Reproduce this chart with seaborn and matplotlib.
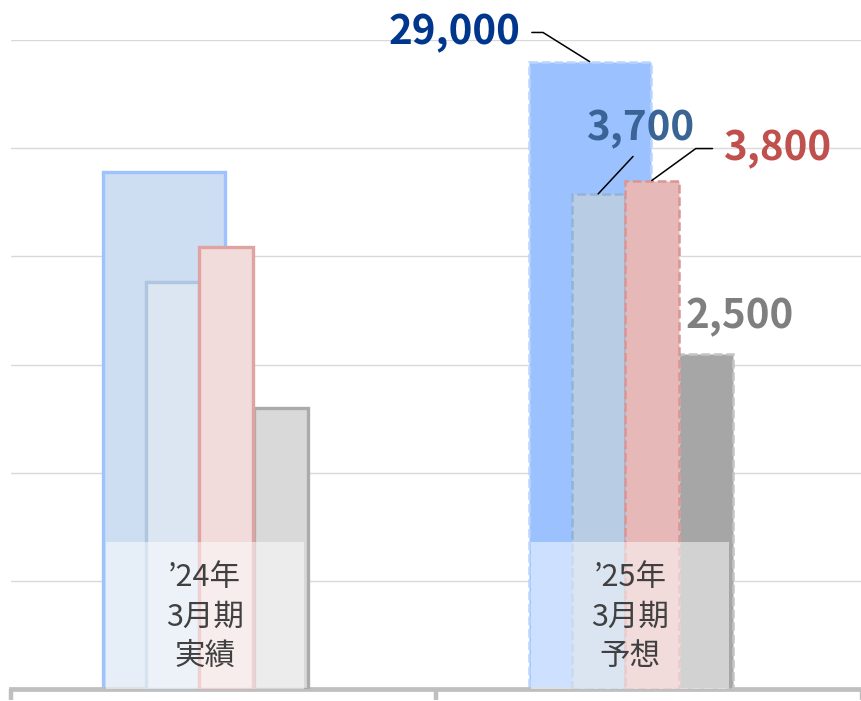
import numpy as np
import pandas as pd
import matplotlib
matplotlib.use("Agg")
import matplotlib.pyplot as plt
import matplotlib.transforms as mtransforms
from matplotlib.patches import Rectangle
import seaborn as sns

# chart data
periods = ["’24年\n3月期\n実績", "’25年\n3月期\n予想"]
total_sales = [23900, 29000]      # big bar, left axis
profit_a = [3040, 3700]           # blue-grey bar, right axis
profit_b = [3300, 3800]           # red bar, right axis
profit_c = [2100, 2500]           # grey bar, right axis

sns.set_style("white")
plt.rcParams['font.family'] = ['Noto Sans CJK JP', 'DejaVu Sans']

fig = plt.figure(figsize=(8.62, 7.01), dpi=100)
ax = fig.add_axes([11 / 862, 12 / 701, 851 / 862, 649 / 701])
ax2 = ax.twinx()

idx = np.arange(len(periods))


def draw_bars(axis, values, offset, width, fills, edges, styles, lws):
    n0 = len(axis.patches)
    sns.barplot(x=idx + offset, y=values, hue=periods, palette=fills,
                hue_order=periods, native_scale=True, width=width,
                saturation=1, dodge=False, legend=False, errorbar=None,
                ax=axis)
    for p, ec, ls, lw in zip(axis.patches[n0:], edges, styles, lws):
        p.set_edgecolor(ec)
        p.set_linestyle(ls)
        p.set_linewidth(lw)
        p.set_alpha(1)
        p.set_joinstyle('miter')


dash = (0, (3.5, 1.5))
draw_bars(ax, total_sales, -0.14, 0.287,
          ["#CDDDF2", "#9BC2FF"], ["#9DC3FF", "#B9D5FF"], ["-", dash], [2.4, 1.8])
draw_bars(ax2, profit_a, -0.12, 0.124,
          ["#DCE6F2", "#B8CCE4"], ["#AFC5E0", "#95B3D7"], ["-", dash], [2.4, 1.8])
draw_bars(ax2, profit_c, 0.134, 0.126,
          ["#D9D9D9", "#A6A6A6"], ["#ABABAB", "#C4C4C4"], ["-", dash], [2.4, 1.8])
draw_bars(ax2, profit_b, 0.006, 0.126,
          ["#F2DCDB", "#E6B9B8"], ["#E0A3A3", "#DA9694"], ["-", dash], [2.4, 1.8])

ax.set_ylim(0, 30000)
ax2.set_ylim(0, 4850)
ax.set_yticks(np.arange(0, 30001, 5000))
ax.yaxis.grid(True, color="#D9D9D9", lw=1.0)
ax.set_axisbelow(True)
ax.tick_params(axis='y', left=False, labelleft=False)
ax2.tick_params(axis='y', right=False, labelright=False)
ax.set_xticks([-0.5, 0.5, 1.5])
ax.tick_params(axis='x', bottom=True, direction='out', length=8, width=3.2,
               color="#BFBFBF", labelbottom=False)
ax.set_xlim(-0.5, 1.5)
for a in (ax, ax2):
    a.set_xlabel("")
    a.set_ylabel("")
    for s in ["top", "left", "right", "bottom"]:
        a.spines[s].set_visible(False)
ax.spines["bottom"].set_visible(True)
ax.spines["bottom"].set_color("#BFBFBF")
ax.spines["bottom"].set_linewidth(3.4)

# translucent period label boxes over the bars
trans = mtransforms.blended_transform_factory(ax2.transData, ax2.transAxes)
for i, lab in enumerate(periods):
    ax2.add_patch(Rectangle((i - 0.277, 0.0), 0.465, 0.2265, transform=trans,
                            facecolor="white", alpha=0.5, edgecolor="none",
                            zorder=10))
    ax2.text(i - 0.045, 0.111, lab, transform=trans, ha="center", va="center",
             fontsize=22, color="#404040", linespacing=1.36, zorder=11)

# value labels for the forecast period
lab_font = dict(fontsize=29, fontweight="bold", annotation_clip=False)
line = dict(arrowstyle="-", color="black", lw=1.1, shrinkB=0)

ax.annotate(f"{total_sales[1]:,}", xy=(1 - 0.14, total_sales[1]),
            xytext=(-50, 21), textcoords="offset points", ha="right",
            va="center", color="#00378C", zorder=12,
            arrowprops=dict(line, shrinkA=6, relpos=(1, 0.5),
                            connectionstyle="angle,angleA=0,angleB=-32,rad=0"),
            **lab_font)
ax2.annotate(f"{profit_a[1]:,}", xy=(1 - 0.12, profit_a[1]),
             xytext=(30, 47), textcoords="offset points", ha="center",
             va="center", color="#3A6496", zorder=12,
             arrowprops=dict(line, shrinkA=4, relpos=(0.5, 0)),
             **lab_font)
ax2.annotate(f"{profit_b[1]:,}", xy=(1 + 0.006, profit_b[1]),
             xytext=(90, 23), textcoords="offset points", ha="center",
             va="center", color="#C0504D", zorder=12,
             arrowprops=dict(line, shrinkA=5, relpos=(0, 0.5),
                             connectionstyle="angle,angleA=0,angleB=36,rad=0"),
             **lab_font)
ax2.annotate(f"{profit_c[1]:,}", xy=(1 + 0.134, profit_c[1]),
             xytext=(24, 27), textcoords="offset points", ha="center",
             va="center", color="#7F7F7F", zorder=12, **lab_font)

fig.savefig("out.png", dpi=100)
